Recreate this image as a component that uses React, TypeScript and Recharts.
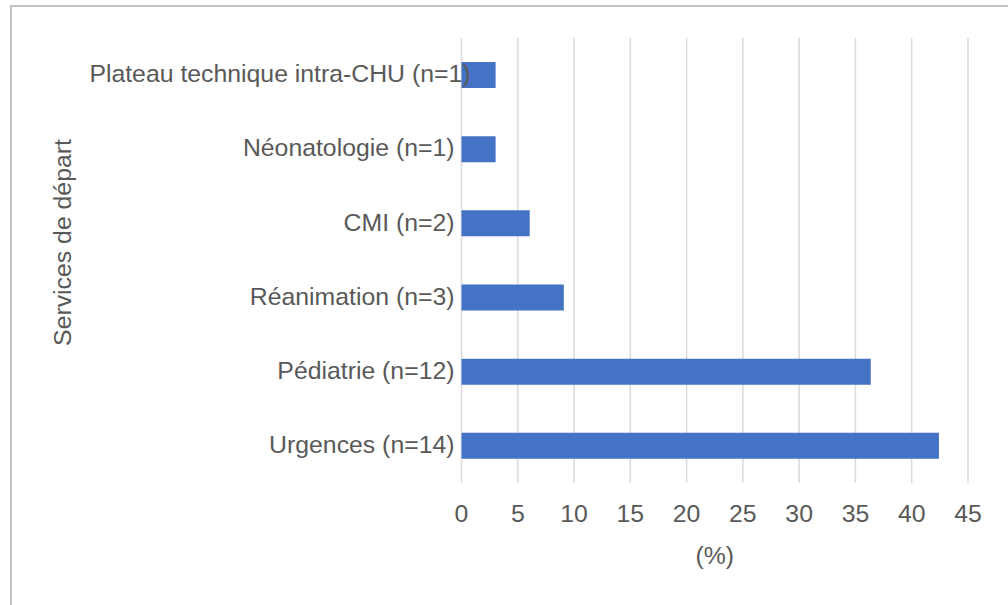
import React from "react";
import {
  BarChart,
  Bar,
  XAxis,
  YAxis,
  CartesianGrid,
  Label,
} from "recharts";

const services = [
  "Plateau technique intra-CHU (n=1)",
  "Néonatologie (n=1)",
  "CMI (n=2)",
  "Réanimation (n=3)",
  "Pédiatrie (n=12)",
  "Urgences (n=14)",
];
const percentages = [3.03, 3.03, 6.06, 9.09, 36.36, 42.42];
const xTicks = [0, 5, 10, 15, 20, 25, 30, 35, 40, 45];

const data = services.map((name, i) => ({ name, value: percentages[i] }));

const FONT = "'Liberation Sans', Arial, Helvetica, sans-serif";
const TEXT = "#595959";
const FS = 24.8;

// libellé de catégorie, le plus long déborde un peu sur la barre comme dans l'original
const CategoryTick = ({ x, y, payload }: any) => {
  const label = String(payload.value);
  const shift = label.length > 30 ? 16 : 0;
  return (
    <text
      x={x + shift}
      y={y}
      dy="0.29em"
      textAnchor="end"
      fontSize={FS}
      fontFamily={FONT}
      fill={TEXT}
    >
      {label}
    </text>
  );
};

export default function App() {
  return (
    <div style={{ position: "absolute", left: 0, top: 0, width: 1008, height: 605, background: "#fff" }}>
      <div
        style={{
          position: "absolute",
          left: 10,
          top: 5,
          width: 998,
          height: 600,
          borderTop: "2px solid #c2c2c2",
          borderLeft: "2px solid #c2c2c2",
        }}
      />
      <div style={{ position: "absolute", left: 0, top: 0 }}>
        <BarChart
          width={1008}
          height={605}
          data={data}
          layout="vertical"
          margin={{ top: 38, right: 40, bottom: 0, left: 0 }}
          barCategoryGap={0}
        >
          <CartesianGrid horizontal={false} stroke="#dadada" strokeWidth={1.5} />
          <XAxis
            type="number"
            domain={[0, 45]}
            ticks={xTicks}
            interval={0}
            axisLine={false}
            tickLine={false}
            tickMargin={15}
            height={122}
            tick={{ fontSize: FS, fontFamily: FONT, fill: TEXT }}
          >
            <Label
              content={({ viewBox }: any) => (
                <text
                  x={viewBox.x + viewBox.width / 2}
                  y={viewBox.y + 81}
                  textAnchor="middle"
                  fontSize={FS}
                  fontFamily={FONT}
                  fill={TEXT}
                >
                  (%)
                </text>
              )}
            />
          </XAxis>
          <YAxis
            type="category"
            dataKey="name"
            width={461.5}
            axisLine={false}
            tickLine={false}
            tickMargin={1}
            interval={0}
            tick={<CategoryTick />}
          >
            <Label
              content={({ viewBox }: any) => {
                const cx = 71;
                const cy = viewBox.y + viewBox.height / 2 - 18;
                return (
                  <text
                    x={cx}
                    y={cy}
                    transform={`rotate(-90 ${cx} ${cy})`}
                    textAnchor="middle"
                    fontSize={FS}
                    fontFamily={FONT}
                    fill={TEXT}
                  >
                    Services de départ
                  </text>
                );
              }}
            />
          </YAxis>
          <Bar dataKey="value" fill="#4472C4" barSize={26} isAnimationActive={false} />
        </BarChart>
      </div>
    </div>
  );
}
